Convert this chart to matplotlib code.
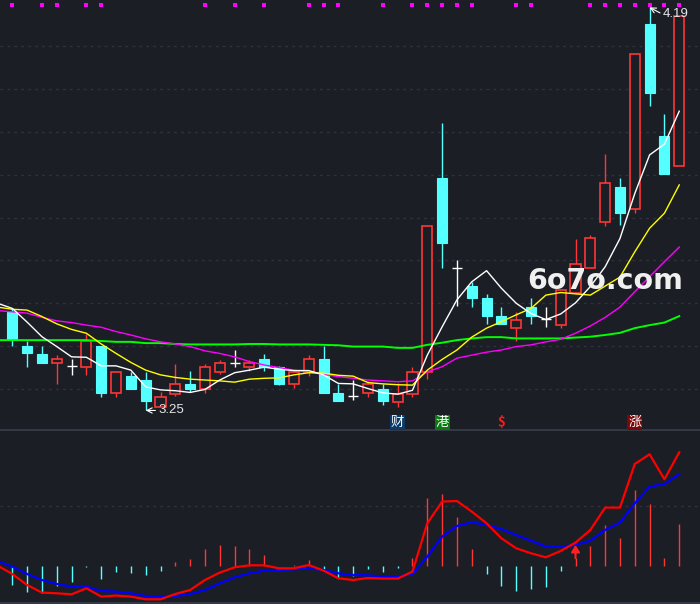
import numpy as np
import matplotlib
matplotlib.use('Agg')
import matplotlib.pyplot as plt
from matplotlib.patches import Rectangle
from matplotlib.transforms import blended_transform_factory

plt.rcParams['font.family'] = ['Liberation Sans', 'Noto Sans CJK SC', 'DejaVu Sans']

# K-line data (open, high, low, close)
opens = [3.480, 3.400, 3.382, 3.360, 3.354, 3.351, 3.400, 3.290, 3.330, 3.321,
         3.259, 3.288, 3.312, 3.299, 3.340, 3.361, 3.351, 3.369, 3.351, 3.311,
         3.340, 3.370, 3.291, 3.284, 3.290, 3.299, 3.270, 3.288, 3.340, 3.792,
         3.582, 3.540, 3.512, 3.470, 3.442, 3.491, 3.463, 3.449, 3.523, 3.582,
         3.690, 3.771, 3.721, 4.151, 3.890, 3.819]
highs = [3.487, 3.413, 3.400, 3.379, 3.369, 3.428, 3.400, 3.340, 3.340, 3.340,
         3.294, 3.358, 3.342, 3.358, 3.368, 3.391, 3.368, 3.382, 3.354, 3.344,
         3.379, 3.400, 3.312, 3.321, 3.319, 3.312, 3.315, 3.352, 3.680, 3.920,
         3.601, 3.550, 3.522, 3.491, 3.480, 3.512, 3.491, 3.532, 3.650, 3.659,
         3.848, 3.792, 4.081, 4.190, 3.941, 4.170]
lows = [3.400, 3.352, 3.361, 3.312, 3.332, 3.332, 3.282, 3.282, 3.301, 3.250,
        3.259, 3.284, 3.292, 3.291, 3.335, 3.352, 3.343, 3.343, 3.309, 3.302,
        3.331, 3.291, 3.273, 3.274, 3.282, 3.263, 3.259, 3.281, 3.323, 3.583,
        3.494, 3.492, 3.452, 3.452, 3.413, 3.452, 3.444, 3.443, 3.522, 3.582,
        3.681, 3.683, 3.711, 3.960, 3.802, 3.819]
closes = [3.416, 3.383, 3.361, 3.369, 3.354, 3.411, 3.291, 3.340, 3.301, 3.273,
          3.281, 3.312, 3.301, 3.351, 3.360, 3.361, 3.360, 3.352, 3.312, 3.340,
          3.369, 3.291, 3.273, 3.284, 3.312, 3.273, 3.288, 3.340, 3.680, 3.641,
          3.582, 3.512, 3.471, 3.452, 3.460, 3.471, 3.463, 3.532, 3.592, 3.652,
          3.781, 3.711, 4.081, 3.991, 3.802, 4.170]

# moving averages, first value belongs to the bar just left of the view
ma5 = [3.500, 3.488, 3.456, 3.422, 3.399, 3.375, 3.374, 3.354, 3.354, 3.344,
       3.305, 3.298, 3.296, 3.292, 3.299, 3.321, 3.338, 3.344, 3.351, 3.346,
       3.343, 3.343, 3.333, 3.313, 3.312, 3.301, 3.291, 3.288, 3.297, 3.379,
       3.445, 3.508, 3.550, 3.576, 3.535, 3.500, 3.476, 3.462, 3.475, 3.501,
       3.539, 3.585, 3.651, 3.756, 3.846, 3.871, 3.948]
ma10 = [3.491, 3.486, 3.484, 3.469, 3.452, 3.439, 3.430, 3.405, 3.383, 3.362,
        3.344, 3.333, 3.327, 3.323, 3.321, 3.319, 3.316, 3.323, 3.325, 3.326,
        3.333, 3.338, 3.337, 3.332, 3.330, 3.315, 3.312, 3.310, 3.309, 3.344,
        3.369, 3.391, 3.421, 3.442, 3.457, 3.473, 3.488, 3.519, 3.525, 3.522,
        3.519, 3.540, 3.561, 3.620, 3.675, 3.710, 3.776]
ma20 = [3.483, 3.480, 3.477, 3.467, 3.459, 3.455, 3.449, 3.444, 3.434, 3.426,
        3.417, 3.410, 3.405, 3.399, 3.389, 3.383, 3.375, 3.364, 3.356, 3.350,
        3.344, 3.340, 3.334, 3.329, 3.325, 3.321, 3.319, 3.317, 3.319, 3.340,
        3.352, 3.372, 3.379, 3.386, 3.391, 3.399, 3.403, 3.410, 3.416, 3.430,
        3.447, 3.467, 3.491, 3.527, 3.562, 3.597, 3.631]
ma60 = [3.414, 3.414, 3.414, 3.414, 3.414, 3.414, 3.414, 3.412, 3.410, 3.410,
        3.407, 3.407, 3.405, 3.404, 3.404, 3.404, 3.404, 3.405, 3.405, 3.404,
        3.404, 3.404, 3.403, 3.402, 3.399, 3.399, 3.399, 3.396, 3.396, 3.403,
        3.408, 3.414, 3.418, 3.421, 3.421, 3.418, 3.418, 3.418, 3.418, 3.420,
        3.422, 3.426, 3.431, 3.442, 3.449, 3.455, 3.470]

# MACD
dif = [0.0007, -0.0077, -0.0187, -0.0263, -0.0270, -0.0280, -0.0220, -0.0303,
       -0.0293, -0.0303, -0.0330, -0.0330, -0.0277, -0.0237, -0.0137, -0.0063,
       -0.0010, 0.0010, 0.0010, -0.0020, -0.0020, 0.0013, -0.0043, -0.0120,
       -0.0137, -0.0117, -0.0123, -0.0123, -0.0053, 0.0430, 0.0647, 0.0653,
       0.0547, 0.0430, 0.0280, 0.0180, 0.0130, 0.0090, 0.0153, 0.0237, 0.0363,
       0.0587, 0.0587, 0.1023, 0.1120, 0.0870, 0.1140]
dea = [0.0053, -0.0003, -0.0077, -0.0137, -0.0177, -0.0203, -0.0203, -0.0247,
       -0.0253, -0.0270, -0.0297, -0.0303, -0.0297, -0.0277, -0.0237, -0.0170,
       -0.0110, -0.0070, -0.0043, -0.0037, -0.0030, -0.0020, -0.0037, -0.0070,
       -0.0087, -0.0090, -0.0103, -0.0103, -0.0077, 0.0097, 0.0297, 0.0403,
       0.0440, 0.0413, 0.0373, 0.0313, 0.0257, 0.0197, 0.0197, 0.0213, 0.0257,
       0.0363, 0.0437, 0.0630, 0.0797, 0.0823, 0.0923]
hist = [-0.0187, -0.0253, -0.0263, -0.0193, -0.0153, -0.0007, -0.0123, -0.0057,
        -0.0063, -0.0087, -0.0043, 0.0043, 0.0073, 0.0173, 0.0213, 0.0203,
        0.0173, 0.0113, 0.0007, 0.0013, 0.0063, -0.0043, -0.0113, -0.0097,
        -0.0027, -0.0053, -0.0017, 0.0083, 0.0683, 0.0723, 0.0493, 0.0173,
        -0.0077, -0.0197, -0.0243, -0.0223, -0.0203, -0.0043, 0.0080, 0.0203,
        0.0413, 0.0283, 0.0763, 0.0623, 0.0087, 0.0423]

top_marks = [0, 2, 3, 5, 6, 13, 15, 17, 20, 21, 22, 25, 27, 28, 29, 30, 31,
             34, 35, 39, 40, 41, 42, 43, 44, 45]
tags = [(26, '财', '#ffffff', '#0b3a68'), (29, '港', '#ffffff', '#0a7a10'),
        (33, '\\$', '#ff1a1a', None), (42, '涨', '#ffffff', '#7a0808')]
cross_up = [38]

BG = '#1c1e25'
RED = '#ff3636'
CYAN = '#54ffff'
SEP = '#3a3e4c'

n = len(closes)
x = np.arange(n)
xl = np.arange(-1, n)

fig = plt.figure(figsize=(7, 6.04), dpi=100, facecolor=BG)
ax1 = fig.add_axes([0, 174 / 604, 1, 430 / 604], facecolor=BG)
ax2 = fig.add_axes([0, 1 / 604, 1, 172 / 604], facecolor=BG)

for ax in (ax1, ax2):
    ax.set_xlim(-0.83, 46.4)
    ax.set_xticks([])
    ax.set_yticks([])
    for s in ax.spines.values():
        s.set_visible(False)
    ax.spines['bottom'].set_visible(True)
    ax.spines['bottom'].set_color(SEP)
    ax.spines['bottom'].set_linewidth(1.2)

ax1.set_ylim(3.2044, 4.2073)
for lvl in np.arange(3.3, 4.15, 0.1):
    ax1.axhline(lvl, color='#2f323c', lw=1, ls=(0, (2, 3)), zorder=0)

w = 0.68
for i in range(n):
    o, h, l, c = opens[i], highs[i], lows[i], closes[i]
    if c > o:
        ax1.vlines(i, c, h, color=RED, lw=1, zorder=2)
        ax1.vlines(i, l, o, color=RED, lw=1, zorder=2)
        ax1.add_patch(Rectangle((i - w / 2, o), w, c - o, fc=BG, ec=RED,
                                lw=1.2, zorder=2))
    elif c < o:
        ax1.vlines(i, l, h, color=CYAN, lw=1, zorder=2)
        ax1.add_patch(Rectangle((i - w / 2, c), w, o - c, fc=CYAN, ec=CYAN,
                                lw=0.8, zorder=2))
    else:
        ax1.vlines(i, l, h, color='white', lw=1, zorder=2)
        ax1.hlines(o, i - w / 2, i + w / 2, color='white', lw=1, zorder=2)

ax1.plot(xl, ma60, color='#00ff00', lw=1.4, zorder=3)
ax1.plot(xl, ma20, color='#ff00ff', lw=1, zorder=3)
ax1.plot(xl, ma10, color='#ffff00', lw=1, zorder=3)
ax1.plot(xl, ma5, color='#ffffff', lw=1, zorder=3)

trans = blended_transform_factory(ax1.transData, ax1.transAxes)
ax1.scatter(top_marks, [0.9877] * len(top_marks), marker='s', s=5,
            color='#ff00ff', transform=trans, zorder=5, linewidths=0)

ihi = int(np.argmax(highs))
ilo = int(np.argmin(lows))
ax1.annotate(f'{highs[ihi]:.2f}', xy=(ihi, highs[ihi]), xytext=(9.5, -5),
             textcoords='offset points', color='#e6e6e6', fontsize=9.5,
             va='center', ha='left',
             arrowprops=dict(arrowstyle='->', color='white', lw=0.8,
                             shrinkA=0, shrinkB=0, relpos=(0, 0.5)), zorder=6)
ax1.annotate(f'{lows[ilo]:.2f}', xy=(ilo, lows[ilo]), xytext=(9, 0),
             textcoords='offset points', color='#e6e6e6', fontsize=9.5,
             va='center', ha='left',
             arrowprops=dict(arrowstyle='->', color='white', lw=0.8,
                             shrinkA=0, shrinkB=0, relpos=(0, 0.5)), zorder=6)

for idx, txt, fc, bc in tags:
    kw = dict(transform=trans, ha='center', va='center', fontsize=9.5,
              color=fc, zorder=6, family=['Noto Sans CJK SC', 'DejaVu Sans'])
    if bc:
        kw['bbox'] = dict(boxstyle='square,pad=0.06', fc=bc, ec='none')
    else:
        kw['fontweight'] = 'bold'
    ax1.text(idx, 0.0175, txt, **kw)

ax1.text(0.864, 0.3465, '6o7o.com', transform=ax1.transAxes, fontsize=20.5,
         fontweight='bold', color='#f0f0f0', ha='center', va='center',
         family='DejaVu Sans', zorder=10)

# MACD panel
ax2.set_ylim(-0.0367, 0.1353)
ax2.axhline(0.06, color='#2f323c', lw=1, ls=(0, (2, 3)), zorder=0)
hv = np.array(hist)
ax2.vlines(x[hv >= 0], 0, hv[hv >= 0], color=RED, lw=1, zorder=2)
ax2.vlines(x[hv < 0], 0, hv[hv < 0], color=CYAN, lw=1, zorder=2)
ax2.plot(xl, dea, color='#0000ff', lw=1.6, zorder=3)
ax2.plot(xl, dif, color='#ff0000', lw=1.6, zorder=4)
for k in cross_up:
    ax2.annotate('', xy=(k, dea[k + 1]), xytext=(k, hist[k]),
                 arrowprops=dict(arrowstyle='-|>,head_width=0.25,head_length=0.4',
                                 color='#ff2020', lw=1.5, shrinkA=0, shrinkB=0),
                 zorder=5)

fig.savefig('out.png', dpi=100, facecolor=BG)
